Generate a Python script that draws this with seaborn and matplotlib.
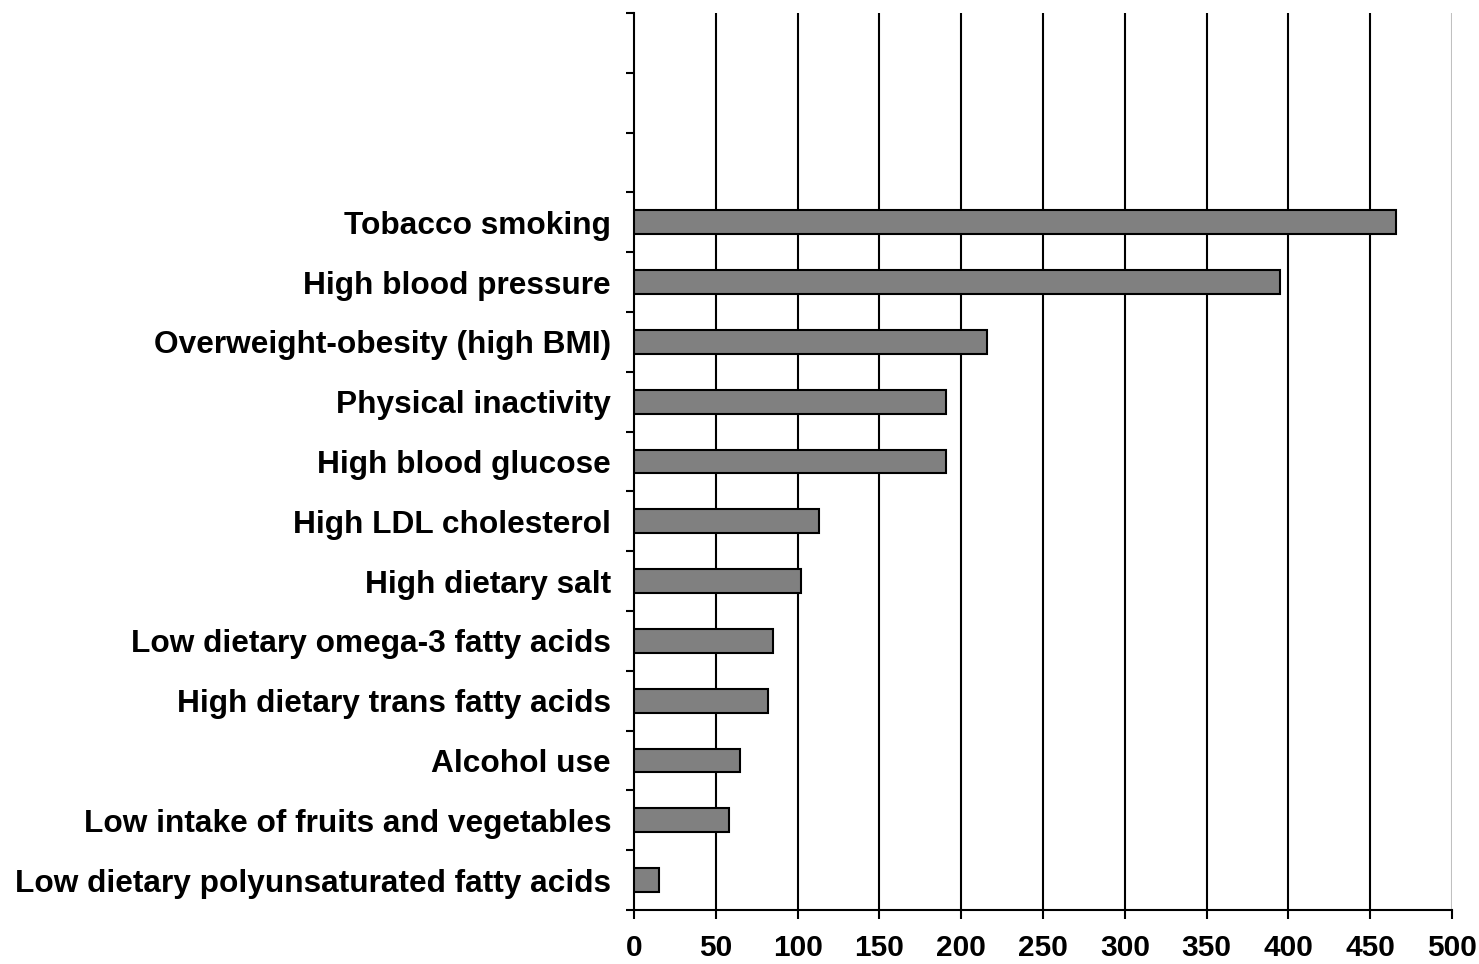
import matplotlib
matplotlib.use("Agg")
import matplotlib.pyplot as plt
import seaborn as sns
import pandas as pd

categories = [
    "Tobacco smoking",
    "High blood pressure",
    "Overweight-obesity (high BMI)",
    "Physical inactivity",
    "High blood glucose",
    "High LDL cholesterol",
    "High dietary salt",
    "Low dietary omega-3 fatty acids",
    "High dietary trans fatty acids",
    "Alcohol use",
    "Low intake of fruits and vegetables",
    "Low dietary polyunsaturated fatty acids",
]
values = [466, 395, 216, 191, 191, 113, 102, 85, 82, 65, 58, 15]
x_ticks = [0, 50, 100, 150, 200, 250, 300, 350, 400, 450, 500]

sns.set_theme(style="white")
plt.rcParams["font.family"] = ["Liberation Sans", "DejaVu Sans"]

df = pd.DataFrame({"risk": categories, "deaths": values})

fig = plt.figure(figsize=(14.79, 9.64), dpi=100)
ax = fig.add_axes([634/1479, 1-910/964, (1452-634)/1479, (910-13)/964])

sns.barplot(data=df, y="risk", x="deaths", order=categories, orient="h",
            color="#808080", saturation=1, width=0.4, edgecolor="black",
            linewidth=1.5, ax=ax, zorder=3)

n = len(categories)
ax.set_ylim(n - 0.5, -3.5)
ax.set_xlim(0, 500)
ax.set_xticks(x_ticks)
ax.set_xticklabels([str(t) for t in x_ticks], fontsize=21.5, fontweight="bold", color="black")
ax.set_yticks(range(n))
ax.set_yticklabels(categories, fontsize=22.8, fontweight="bold", color="black")
ax.set_yticks([i - 0.5 for i in range(-3, n + 1)], minor=True)
ax.tick_params(axis="y", which="major", left=True, length=0, pad=16.5)
ax.tick_params(axis="y", which="minor", left=True, length=6, width=1.5, color="black", direction="out")
ax.tick_params(axis="x", which="major", bottom=True, length=6.5, width=1.5, color="black", direction="out", pad=11)
ax.set_xlabel("")
ax.set_ylabel("")

for t in x_ticks[1:]:
    ax.axvline(t, color="black" if t < 500 else "#c0c0c0", linewidth=1.5, zorder=1)

for s in ["top", "right"]:
    ax.spines[s].set_visible(False)
for s in ["left", "bottom"]:
    ax.spines[s].set_color("black")
    ax.spines[s].set_linewidth(1.5)

fig.savefig("out.png", dpi=100, facecolor="white")
